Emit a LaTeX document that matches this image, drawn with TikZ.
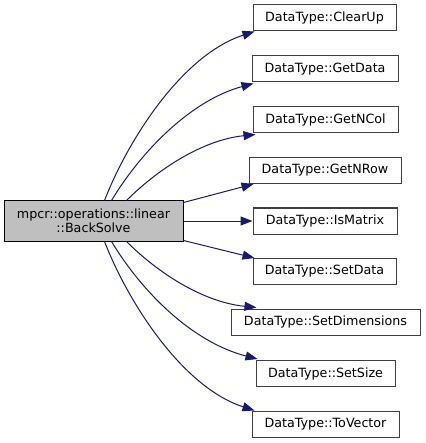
\documentclass[tikz,border=0pt]{standalone}
\usepackage{fontspec}
\setmainfont{DejaVu Sans}
\usetikzlibrary{arrows.meta,calc}
\definecolor{edgec}{HTML}{191970}
\definecolor{boxb}{HTML}{404040}
\definecolor{rootf}{HTML}{BFBFBF}
\begin{document}
\begin{tikzpicture}[x=1pt,y=-1pt,
  lbl/.style={font=\fontsize{12.7}{14.5}\selectfont},
  box/.style={lbl, draw=boxb, fill=white, line width=1pt, minimum height=26pt, inner sep=0pt},
  rootbox/.style={lbl, draw=black, fill=rootf, line width=1pt, minimum width=179pt, minimum height=40pt, align=center, inner sep=0pt},
  edge/.style={draw=edgec, line width=1pt, -{Triangle[length=12pt,width=9pt]}}]
\useasboundingbox (0,0) rectangle (425,443);
\node[rootbox] (root) at (93.5,221) {mpcr::operations::linear\\::BackSolve};
\node[box, minimum width=143pt] (clearup) at (324.5,18) {DataType::ClearUp};
\node[box, minimum width=146pt] (getdata) at (325,69) {DataType::GetData};
\node[box, minimum width=145pt] (getncol) at (325.5,120) {DataType::GetNCol};
\node[box, minimum width=152pt] (getnrow) at (325,170.5) {DataType::GetNRow};
\node[box, minimum width=144pt] (ismatrix) at (325,221) {DataType::IsMatrix};
\node[box, minimum width=143pt] (setdata) at (324.5,271.5) {DataType::SetData};
\node[box, minimum width=189pt] (setdim) at (325.5,322) {DataType::SetDimensions};
\node[box, minimum width=139pt] (setsize) at (325.5,373.5) {DataType::SetSize};
\node[box, minimum width=147pt] (tovector) at (325.5,424) {DataType::ToVector};
\draw[edge] ($(root.north west)+(101,0)$) .. controls (128,140) and (182,55) .. ($(clearup.south west)+(2,0)$);
\draw[edge] ($(root.north west)+(108,0)$) .. controls (142,150) and (192,100) .. ($(getdata.south west)+(2,1)$);
\draw[edge] ($(root.north west)+(123,0)$) .. controls (157,170) and (202,140) .. ($(getncol.south west)+(3,1)$);
\draw[edge] ($(root.north east)+(0,2)$) -- ($(getnrow.south west)+(5,0)$);
\draw[edge] (root.east) -- (ismatrix.west);
\draw[edge] ($(root.south east)+(0,-1)$) -- ($(setdata.north west)+(2,0)$);
\draw[edge] ($(root.south west)+(123,0)$) .. controls (157,272) and (202,302) .. ($(setdim.north west)+(26,-1)$);
\draw[edge] ($(root.south west)+(108,0)$) .. controls (142,292) and (192,342) .. ($(setsize.north west)+(2,-1)$);
\draw[edge] ($(root.south west)+(101,0)$) .. controls (128,302) and (182,387) .. ($(tovector.north west)+(3,0)$);
\end{tikzpicture}
\end{document}
